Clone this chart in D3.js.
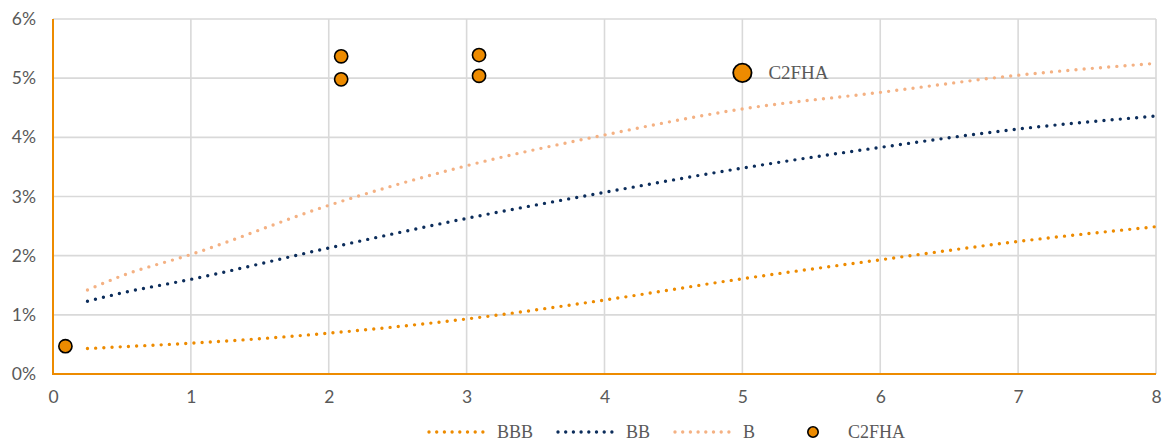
<!DOCTYPE html>
<html>
<head>
<meta charset="utf-8">
<script src="https://cdn.jsdelivr.net/npm/d3@7"></script>
<style>
  html, body { margin: 0; padding: 0; background: #fff; }
  svg { display: block; }
</style>
</head>
<body>
<div id="chart"></div>
<script>
// Maturity (years) at which each rating curve is sampled
const curveYears = [0.25, 0.5, 1, 2, 3, 4, 5, 6, 7, 8];
// Rating curves, yield spread in %
const bbbCurve = [0.43, 0.46, 0.52, 0.69, 0.93, 1.25, 1.61, 1.93, 2.24, 2.49];
const bbCurve  = [1.23, 1.37, 1.60, 2.13, 2.63, 3.07, 3.48, 3.83, 4.14, 4.36];
const bCurve   = [1.42, 1.66, 2.02, 2.85, 3.52, 4.04, 4.48, 4.76, 5.05, 5.25];

// Individual bond observations
const bondYears   = [0.09, 2.09, 2.09, 3.09, 3.09];
const bondSpreads = [0.47, 5.37, 4.98, 5.39, 5.04];

// Highlighted bond
const highlightName = "C2FHA";
const highlightYear = 5.0;
const highlightSpread = 5.09;

const xTicks = [0, 1, 2, 3, 4, 5, 6, 7, 8];
const yTicks = [0, 1, 2, 3, 4, 5, 6];

const seriesNames  = ["BBB", "BB", "B"];
const seriesColors = ["#ED8B00", "#0C2D5B", "#F4B183"];
const pointFill = "#ED8B00";

const W = 1164, H = 442;
const margin = { top: 19, right: 8, bottom: 68, left: 53 };

const svg = d3.select("#chart").append("svg")
  .attr("width", W).attr("height", H);

const x = d3.scaleLinear().domain([0, 8]).range([margin.left, W - margin.right]);
const y = d3.scaleLinear().domain([0, 6]).range([H - margin.bottom, margin.top]);

// Gridlines
const grid = svg.append("g").attr("stroke", "#D9D9D9").attr("stroke-width", 1.6);
grid.selectAll("line.h").data(yTicks.filter(d => d > 0)).join("line")
  .attr("x1", x(0)).attr("x2", x(8))
  .attr("y1", d => y(d)).attr("y2", d => y(d));
grid.selectAll("line.v").data(xTicks.filter(d => d > 0)).join("line")
  .attr("x1", d => x(d)).attr("x2", d => x(d))
  .attr("y1", y(0)).attr("y2", y(6));

// Axes (labels only, the axis lines are drawn separately in orange)
const tickFont = "Lato, 'Open Sans', sans-serif";
const xAxis = svg.append("g")
  .attr("transform", `translate(0,${y(0)})`)
  .call(d3.axisBottom(x).tickValues(xTicks).tickFormat(d3.format("d")).tickSize(0).tickPadding(17));
const yAxis = svg.append("g")
  .attr("transform", `translate(${x(0)},0)`)
  .call(d3.axisLeft(y).tickValues(yTicks).tickFormat(d => d + "%").tickSize(0).tickPadding(17));
[xAxis, yAxis].forEach(a => {
  a.select(".domain").remove();
  a.selectAll("text").attr("fill", "#595959")
    .style("font-family", tickFont).style("font-size", "17.5px");
});

svg.append("line").attr("x1", x(0)).attr("x2", x(0)).attr("y1", y(0) + 1).attr("y2", y(6))
  .attr("stroke", "#ED8B00").attr("stroke-width", 2);
svg.append("line").attr("x1", x(0)).attr("x2", x(8)).attr("y1", y(0)).attr("y2", y(0))
  .attr("stroke", "#ED8B00").attr("stroke-width", 2);

// Rating curves, dotted
const line = d3.line()
  .x(d => x(d[0])).y(d => y(d[1]))
  .curve(d3.curveMonotoneX);
const curves = [bbbCurve, bbCurve, bCurve];
curves.forEach((vals, i) => {
  svg.append("path")
    .datum(curveYears.map((t, j) => [t, vals[j]]))
    .attr("d", line)
    .attr("fill", "none")
    .attr("stroke", seriesColors[i])
    .attr("stroke-width", 3.4)
    .attr("stroke-linecap", "round")
    .attr("stroke-dasharray", "0 8.2");
});

// Bond points
svg.append("g").selectAll("circle")
  .data(bondYears.map((t, i) => [t, bondSpreads[i]]))
  .join("circle")
  .attr("cx", d => x(d[0])).attr("cy", d => y(d[1]))
  .attr("r", 6.6)
  .attr("fill", pointFill).attr("stroke", "#000").attr("stroke-width", 1.6);

svg.append("circle")
  .attr("cx", x(highlightYear)).attr("cy", y(highlightSpread))
  .attr("r", 9.2)
  .attr("fill", pointFill).attr("stroke", "#000").attr("stroke-width", 1.8);

const serif = "'Liberation Serif', 'DejaVu Serif', serif";
svg.append("text")
  .attr("x", x(highlightYear) + 26).attr("y", y(highlightSpread))
  .attr("dy", "0.35em")
  .attr("fill", "#595959")
  .style("font-family", serif).style("font-size", "19px")
  .text(highlightName);

// Legend
const legendY = 432;
const legendItems = [
  { name: seriesNames[0], color: seriesColors[0], x0: 429, x1: 490, tx: 497 },
  { name: seriesNames[1], color: seriesColors[1], x0: 558, x1: 619, tx: 626 },
  { name: seriesNames[2], color: seriesColors[2], x0: 675, x1: 736, tx: 743 }
];
const legend = svg.append("g");
legendItems.forEach(it => {
  legend.append("line")
    .attr("x1", it.x0).attr("x2", it.x1).attr("y1", legendY).attr("y2", legendY)
    .attr("stroke", it.color).attr("stroke-width", 3.4)
    .attr("stroke-linecap", "round").attr("stroke-dasharray", "0 7.7");
  legend.append("text")
    .attr("x", it.tx).attr("y", legendY).attr("dy", "0.35em")
    .attr("fill", "#595959")
    .style("font-family", serif).style("font-size", "18px")
    .text(it.name);
});
legend.append("circle")
  .attr("cx", 813).attr("cy", legendY).attr("r", 5.2)
  .attr("fill", pointFill).attr("stroke", "#000").attr("stroke-width", 1.6);
legend.append("text")
  .attr("x", 848).attr("y", legendY).attr("dy", "0.35em")
  .attr("fill", "#595959")
  .style("font-family", serif).style("font-size", "18px")
  .text(highlightName);
</script>
</body>
</html>
